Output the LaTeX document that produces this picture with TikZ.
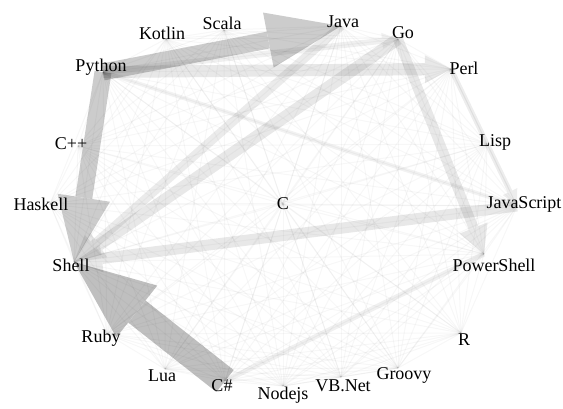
\documentclass[tikz,border=0pt]{standalone}
\usepackage{fontspec}
\setmainfont{Liberation Serif}
\usetikzlibrary{arrows.meta}
\begin{document}
\begin{tikzpicture}[x=1pt,y=-1pt,
  lbl/.style={anchor=base, inner sep=0pt, font=\fontsize{18}{20}\selectfont},
  faint/.style={draw=black, draw opacity=0.03, line width=1pt},
  wedge/.style={draw=black, line cap=butt},
  tip/.style 2 args={-{Triangle[width=#1,length=#2,line width=0pt]}}
]
\useasboundingbox (0,0) rectangle (563,409);
% node points
\coordinate (python) at (103,72);
\coordinate (kotlin) at (166,39);
\coordinate (scala) at (224,30);
\coordinate (java) at (341,26);
\coordinate (go) at (398,39);
\coordinate (perl) at (451,69);
\coordinate (lisp) at (487,144);
\coordinate (javascript) at (517,206);
\coordinate (powershell) at (484,254);
\coordinate (r) at (461,333);
\coordinate (groovy) at (398,368);
\coordinate (vbnet) at (341,377);
\coordinate (nodejs) at (283,386);
\coordinate (csharp) at (225,381);
\coordinate (lua) at (165,369);
\coordinate (ruby) at (107,334);
\coordinate (shell) at (74,262);
\coordinate (haskell) at (50,204);
\coordinate (cpp) at (78,146);
\coordinate (c) at (283,204);
% faint background connections
\foreach \a [count=\i] in {python,kotlin,scala,java,go,perl,lisp,javascript,powershell,r,groovy,vbnet,nodejs,csharp,lua,ruby,shell,haskell,cpp,c}{
  \foreach \b [count=\j] in {python,kotlin,scala,java,go,perl,lisp,javascript,powershell,r,groovy,vbnet,nodejs,csharp,lua,ruby,shell,haskell,cpp,c}{
    \ifnum\j>\i \draw[faint] (\a) -- (\b); \fi
  }
}
% lighter weighted connections
\begin{scope}[transparency group, opacity=0.06]
\draw[wedge, line width=5pt] (csharp) -- (powershell);
\end{scope}
\begin{scope}[transparency group, opacity=0.06]
\draw[wedge, line width=6pt, tip={16pt}{16pt}] (python) -- (go);
\end{scope}
\begin{scope}[transparency group, opacity=0.07]
\draw[wedge, line width=5pt, tip={16pt}{16pt}] (perl) -- (javascript);
\end{scope}
\begin{scope}[transparency group, opacity=0.05]
\draw[wedge, line width=4pt] (python) -- (javascript);
\end{scope}
\begin{scope}[transparency group, opacity=0.09]
\draw[wedge, line width=12pt, tip={28pt}{26pt}] (python) -- (perl);
\end{scope}
\begin{scope}[transparency group, opacity=0.09]
\draw[wedge, line width=12pt, tip={30pt}{30pt}] (go) -- (shell);
\end{scope}
\begin{scope}[transparency group, opacity=0.08]
\draw[wedge, line width=9pt, tip={26pt}{26pt}] (java) -- (shell);
\end{scope}
\begin{scope}[transparency group, opacity=0.09]
\draw[wedge, line width=11pt, tip={28pt}{28pt}] (javascript) -- (shell);
\end{scope}
\begin{scope}[transparency group, opacity=0.09]
\draw[wedge, line width=10pt, tip={30pt}{28pt}] (go) -- (powershell);
\end{scope}
% heavy connections
\begin{scope}[transparency group, opacity=0.2]
\draw[wedge, line width=17pt, tip={56pt}{74pt}] (python) -- (java);
\end{scope}
\begin{scope}[transparency group, opacity=0.2]
\draw[wedge, line width=17pt, tip={53pt}{65pt}] (python) -- (shell);
\end{scope}
\begin{scope}[transparency group, opacity=0.25]
\draw[wedge, line width=28pt, tip={66pt}{80pt}] (csharp) -- (shell);
\end{scope}
% labels
\node[lbl] (pythonL) at (101,72) {Python};
\node[lbl] (kotlinL) at (162,40) {Kotlin};
\node[lbl] (scalaL) at (222,30) {Scala};
\node[lbl] (javaL) at (343,28) {Java};
\node[lbl] (goL) at (403,39) {Go};
\node[lbl] (perlL) at (464,75) {Perl};
\node[lbl] (lispL) at (495,147) {Lisp};
\node[lbl] (javascriptL) at (524,209) {JavaScript};
\node[lbl] (powershellL) at (494,272) {PowerShell};
\node[lbl] (rL) at (464,345) {R};
\node[lbl] (groovyL) at (404,379) {Groovy};
\node[lbl] (vbnetL) at (343,391) {VB.Net};
\node[lbl] (nodejsL) at (283,399) {Nodejs};
\node[lbl] (csharpL) at (222,391) {C\#};
\node[lbl] (luaL) at (162,381) {Lua};
\node[lbl] (rubyL) at (101,342) {Ruby};
\node[lbl] (shellL) at (71,272) {Shell};
\node[lbl] (haskellL) at (41,211) {Haskell};
\node[lbl] (cppL) at (71,150) {C++};
\node[lbl] (cL) at (283,210) {C};
\end{tikzpicture}
\end{document}
